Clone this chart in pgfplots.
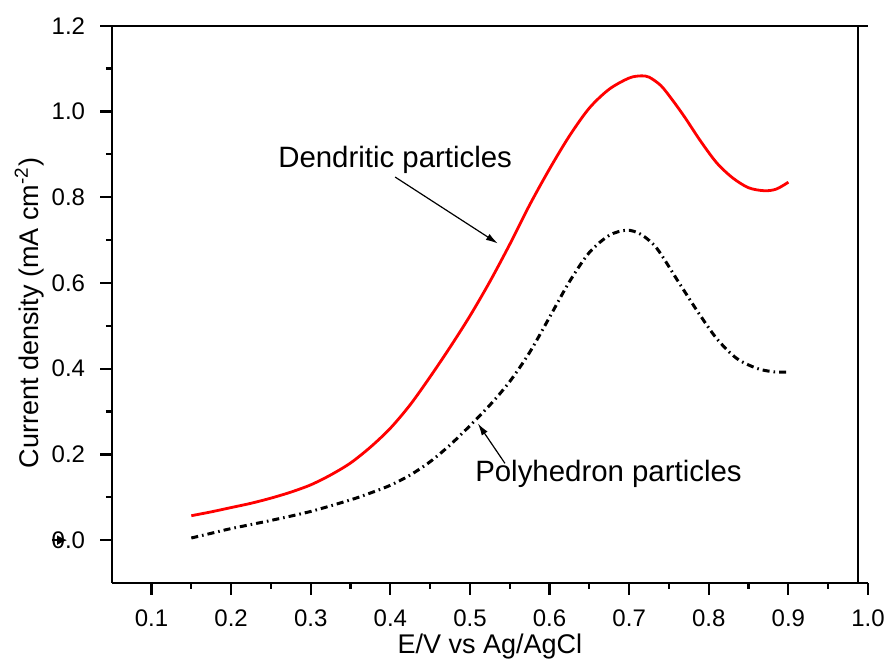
\documentclass[border=0pt]{standalone}
\usepackage{fontspec}
\setmainfont{Liberation Sans}
\usepackage{pgfplots}
\pgfplotsset{compat=1.18}
\usetikzlibrary{arrows.meta}
\begin{document}
\begin{tikzpicture}
\begin{axis}[
  width=378.15pt, height=278.65pt, scale only axis,
  xmin=0.05, xmax=1.0, ymin=-0.1, ymax=1.2,
  axis x line*=box, axis y line*=left,
  xtick pos=bottom, ytick pos=left,
  xtick={0.1,0.2,...,1.0}, ytick={0,0.2,...,1.2},
  minor x tick num=1, minor y tick num=1,
  tick align=outside,
  major tick length=5.8pt, minor tick length=2.9pt,
  every tick/.style={black, line width=1.1pt},
  axis line style={black, line width=1.15pt},
  /pgf/number format/assume math mode=true,
  xticklabel={\pgfmathprintnumber[fixed,fixed zerofill,precision=1]{\tick}},
  yticklabel={\pgfmathprintnumber[fixed,fixed zerofill,precision=1]{\tick}},
  ticklabel style={font=\fontsize{12}{14}\selectfont},
  xticklabel style={yshift=-4pt},
  yticklabel style={xshift=-4pt},
  xlabel={E/V vs Ag/AgCl},
  ylabel={Current density (mA cm\textsuperscript{-2})},
  label style={font=\fontsize{13.5}{16}\selectfont},
  xlabel style={at={(axis description cs:0.5,-0.1263)}, anchor=base},
  ylabel style={at={(axis description cs:-0.0971,0.4846)}, anchor=base, rotate=0},
  clip=false,
]
\coordinate (sw) at (rel axis cs:0,0);
\coordinate (ne) at (rel axis cs:1,1);
\draw[black, line width=1.15pt] (axis cs:0.987,-0.1) -- (axis cs:0.987,1.2);

\addplot[red, line width=1.4pt, smooth, tension=0.5] coordinates {
(0.15,0.057) (0.175,0.066) (0.20,0.076) (0.225,0.086) (0.25,0.098)
(0.275,0.112) (0.30,0.129) (0.325,0.152) (0.35,0.180) (0.375,0.217)
(0.40,0.261) (0.425,0.316) (0.45,0.381) (0.475,0.450) (0.50,0.523)
(0.525,0.603) (0.55,0.690) (0.575,0.782) (0.60,0.866) (0.625,0.943)
(0.65,1.008) (0.675,1.052) (0.70,1.078) (0.715,1.083) (0.725,1.080)
(0.74,1.060) (0.755,1.025) (0.77,0.986) (0.79,0.930) (0.81,0.880)
(0.83,0.845) (0.85,0.822) (0.87,0.815) (0.885,0.819) (0.90,0.835)
};

\addplot[black, line width=1.5pt, smooth, tension=0.5, dash pattern=on 3.5pt off 2pt on 0.8pt off 2pt] coordinates {
(0.15,0.005) (0.175,0.016) (0.20,0.027) (0.25,0.046) (0.30,0.067)
(0.35,0.094) (0.375,0.110) (0.40,0.128) (0.425,0.152) (0.45,0.183)
(0.475,0.222) (0.50,0.267) (0.525,0.315) (0.55,0.370) (0.575,0.438)
(0.60,0.520) (0.625,0.603) (0.65,0.671) (0.675,0.711) (0.697,0.723)
(0.715,0.713) (0.735,0.680) (0.76,0.608) (0.785,0.536) (0.81,0.470)
(0.835,0.424) (0.86,0.401) (0.88,0.393) (0.90,0.392)
};

\node[anchor=base, font=\fontsize{14.7}{17}\selectfont] at (axis cs:0.406,0.870) {Dendritic particles};
\node[anchor=base, font=\fontsize{14.7}{17}\selectfont] at (axis cs:0.674,0.136) {Polyhedron particles};
\draw[line width=0.6pt, -{Latex[length=6pt,width=3.5pt]}] (axis cs:0.406,0.847) -- (axis cs:0.535,0.692);
\draw[line width=0.6pt, -{Latex[length=6pt,width=3.5pt]}] (axis cs:0.544,0.179) -- (axis cs:0.510,0.272);
\draw[line width=0.8pt, -{Latex[length=5pt,width=5pt]}] (axis cs:-0.025,0) -- (axis cs:-0.006,0);
\end{axis}
\pgfresetboundingbox
\path ([shift={(-55.85pt,-43.5pt)}]sw) rectangle ([shift={(9.5pt,12.85pt)}]ne);
\end{tikzpicture}
\end{document}
